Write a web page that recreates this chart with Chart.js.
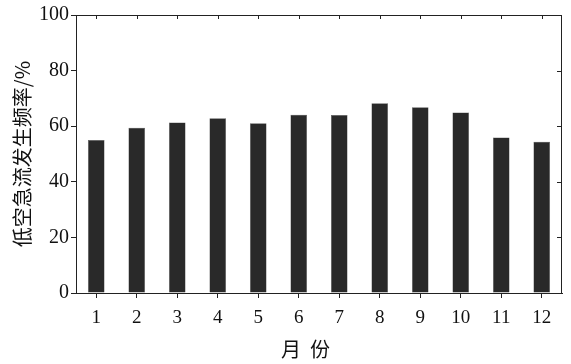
<!DOCTYPE html>
<html>
<head>
<meta charset="utf-8">
<script src="https://cdn.jsdelivr.net/npm/chart.js@4.4.1/dist/chart.umd.min.js"></script>
<style>
  html, body { margin: 0; padding: 0; background: #fff; }
  #box { width: 571px; height: 364px; }
</style>
</head>
<body>
<div id="box"><canvas id="myChart"></canvas></div>
<script>
'use strict';

let months = ['1', '2', '3', '4', '5', '6', '7', '8', '9', '10', '11', '12'];
let freq = [55, 59.4, 61.3, 62.9, 61.1, 64.1, 64, 68.3, 66.8, 64.9, 55.9, 54.4];
let yTicks = [0, 20, 40, 60, 80, 100];

// frame on top/right with inward ticks
let framePlugin = {
    id: 'frame',
    afterDraw(chart) {
        let ctx = chart.ctx;
        let a = chart.chartArea;
        let xs = chart.scales.x;
        let ys = chart.scales.y;
        ctx.save();
        ctx.strokeStyle = '#222';
        ctx.lineWidth = 1;
        ctx.beginPath();
        ctx.moveTo(a.left, a.top + 0.5);
        ctx.lineTo(a.right, a.top + 0.5);
        ctx.moveTo(a.right - 0.5, a.top);
        ctx.lineTo(a.right - 0.5, a.bottom);
        for (let i = 0; i < months.length; i++) {
            let x = Math.round(xs.getPixelForValue(i)) + 0.5;
            ctx.moveTo(x, a.top);
            ctx.lineTo(x, a.top + 4);
        }
        for (let i = 0; i < yTicks.length; i++) {
            let y = Math.round(ys.getPixelForValue(yTicks[i])) + 0.5;
            ctx.moveTo(a.right, y);
            ctx.lineTo(a.right - 5, y);
        }
        ctx.stroke();
        ctx.restore();
    }
};

let ctx = document.getElementById('myChart').getContext('2d');
let myChart = new Chart(ctx, {
    type: 'bar',
    data: {
        labels: months,
        datasets: [{
            data: freq,
            backgroundColor: '#292929',
            borderColor: '#555',
            borderWidth: 0.5,
            barPercentage: 0.41,
            categoryPercentage: 1
        }]
    },
    options: {
        responsive: true,
        maintainAspectRatio: false,
        animation: false,
        layout: { padding: { top: 15, right: 9, left: 0, bottom: 0 } },
        plugins: {
            legend: { display: false },
            tooltip: { enabled: false }
        },
        scales: {
            x: {
                grid: { display: true, drawOnChartArea: false, offset: false, tickLength: 5, color: '#222' },
                border: { display: true, color: '#222', width: 1 },
                ticks: {
                    color: '#111',
                    padding: 9,
                    maxRotation: 0,
                    font: { family: 'Liberation Serif', size: 19 }
                },
                title: {
                    display: true,
                    text: '月  份      ',
                    color: '#111',
                    padding: { top: 0, bottom: 3 },
                    font: { family: 'Noto Sans CJK SC', size: 20 }
                },
                afterFit(scale) { scale.height = 71; }
            },
            y: {
                min: 0,
                max: 100,
                grid: { display: true, drawOnChartArea: false, tickLength: 5, color: '#222' },
                border: { display: true, color: '#222', width: 1 },
                ticks: {
                    stepSize: 20,
                    color: '#111',
                    padding: 2,
                    font: { family: 'Liberation Serif', size: 20 }
                },
                title: {
                    display: true,
                    text: '低空急流发生频率/%',
                    color: '#111',
                    padding: { top: 10, bottom: 0 },
                    font: { family: 'Noto Sans CJK SC', size: 20 }
                },
                afterFit(scale) { scale.width = 76; }
            }
        }
    },
    plugins: [framePlugin]
});
</script>
</body>
</html>
